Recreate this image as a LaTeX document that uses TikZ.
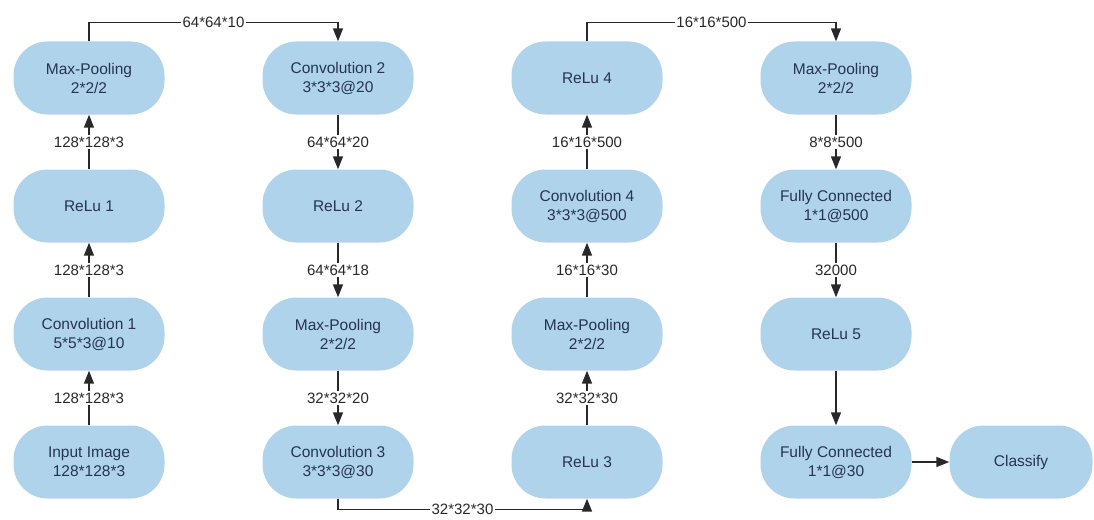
\documentclass[tikz,border=0pt]{standalone}
\usepackage{fontspec}
\setmainfont{Liberation Sans}
\usetikzlibrary{arrows.meta}
\definecolor{nodefill}{RGB}{176,211,236}
\definecolor{nodetext}{RGB}{38,52,78}
\definecolor{linecol}{RGB}{40,40,40}
\begin{document}
\begin{tikzpicture}[x=1pt,y=-1pt,
  blk/.style={fill=nodefill, rounded corners=34pt, minimum width=151pt, minimum height=73pt,
    align=center, inner sep=0pt, text=nodetext, font=\fontsize{15.5}{19}\selectfont},
  arr/.style={draw=linecol, line width=1.5pt, -{Triangle[length=13pt,width=10pt]}},
  lbl/.style={fill=white, inner sep=1.5pt, text=linecol, font=\fontsize{15}{18}\selectfont}]
\useasboundingbox (0,0) rectangle (1094,519);
% column 1
\node[blk] (in)  at (89,462) {Input Image\\128*128*3};
\node[blk] (c1)  at (89,334) {Convolution 1\\5*5*3@10};
\node[blk] (r1)  at (89,206) {ReLu 1};
\node[blk] (mp1) at (89,78)  {Max-Pooling\\2*2/2};
% column 2
\node[blk] (c2)  at (338,78)  {Convolution 2\\3*3*3@20};
\node[blk] (r2)  at (338,206) {ReLu 2};
\node[blk] (mp2) at (338,334) {Max-Pooling\\2*2/2};
\node[blk] (c3)  at (338,462) {Convolution 3\\3*3*3@30};
% column 3
\node[blk] (r3)  at (587,462) {ReLu 3};
\node[blk] (mp3) at (587,334) {Max-Pooling\\2*2/2};
\node[blk] (c4)  at (587,206) {Convolution 4\\3*3*3@500};
\node[blk] (r4)  at (587,78)  {ReLu 4};
% column 4
\node[blk] (mp4) at (836,78)  {Max-Pooling\\2*2/2};
\node[blk] (fc1) at (836,206) {Fully Connected\\1*1@500};
\node[blk] (r5)  at (836,334) {ReLu 5};
\node[blk] (fc2) at (836,462) {Fully Connected\\1*1@30};
\node[blk, minimum width=143pt] (cl) at (1021,462) {Classify};
% connectors column 1
\draw[arr] (in) -- node[lbl]{128*128*3} (c1);
\draw[arr] (c1) -- node[lbl]{128*128*3} (r1);
\draw[arr] (r1) -- node[lbl]{128*128*3} (mp1);
\draw[arr] (mp1.north) -- ++(0,-19) -| node[lbl,pos=0.25]{64*64*10} (c2.north);
% column 2
\draw[arr] (c2) -- node[lbl]{64*64*20} (r2);
\draw[arr] (r2) -- node[lbl]{64*64*18} (mp2);
\draw[arr] (mp2) -- node[lbl]{32*32*20} (c3);
\draw[arr] (c3.south) -- ++(0,11) -| node[lbl,pos=0.25]{32*32*30} (r3.south);
% column 3
\draw[arr] (r3) -- node[lbl]{32*32*30} (mp3);
\draw[arr] (mp3) -- node[lbl]{16*16*30} (c4);
\draw[arr] (c4) -- node[lbl]{16*16*500} (r4);
\draw[arr] (r4.north) -- ++(0,-19) -| node[lbl,pos=0.25]{16*16*500} (mp4.north);
% column 4
\draw[arr] (mp4) -- node[lbl]{8*8*500} (fc1);
\draw[arr] (fc1) -- node[lbl]{32000} (r5);
\draw[arr] (r5) -- (fc2);
\draw[arr] (fc2) -- (cl);
\end{tikzpicture}
\end{document}
